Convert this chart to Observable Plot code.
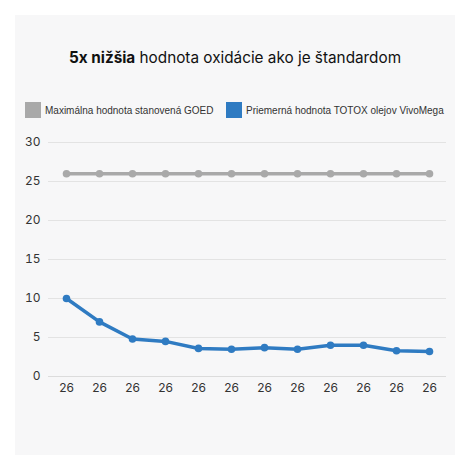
<!DOCTYPE html>
<html>
<head>
<meta charset="utf-8">
<script src="https://cdn.jsdelivr.net/npm/d3@7"></script>
<script src="https://cdn.jsdelivr.net/npm/@observablehq/plot@0.6"></script>
<style>
  body { margin: 0; background: #fff; font-family: Inter, "Noto Sans", sans-serif; }
  #panel { position: absolute; left: 15px; top: 15px; width: 440px; height: 440px; background: #f7f7f8; }
  #title { position: absolute; left: 0; width: 440px; top: 33px; text-align: center; font-size: 15.3px; color: #111; }
  #legend { position: absolute; left: 0; top: 87px; width: 440px; height: 18px; font-family: "Liberation Sans", Arial, sans-serif; font-size: 10px; color: #333; white-space: nowrap; }
  .sw { display: inline-block; width: 16px; height: 16px; margin-right: 4px; }
  .item { position: absolute; top: 0; display: flex; align-items: center; }
  #chart { position: absolute; left: 0; top: 115px; }
</style>
</head>
<body>
<div id="panel">
  <div id="title"><b>5x nižšia</b> hodnota oxidácie ako je štandardom</div>
  <div id="legend"></div>
  <div id="chart"></div>
</div>
<script>
const xLabels = ["26","26","26","26","26","26","26","26","26","26","26","26"];
const seriesNames = ["Maximálna hodnota stanovená GOED", "Priemerná hodnota TOTOX olejov VivoMega"];
const goedValues = [26,26,26,26,26,26,26,26,26,26,26,26];
const vivoValues = [10,7,4.8,4.5,3.6,3.5,3.7,3.5,4.0,4.0,3.3,3.2];
const colors = ["#a9a9a9", "#2f7bc2"];
const yTicks = [0,5,10,15,20,25,30];

const legend = document.getElementById("legend");
const legendLeft = [10, 211];
seriesNames.forEach((n, i) => {
  const it = document.createElement("div");
  it.className = "item";
  it.style.left = legendLeft[i] + "px";
  it.innerHTML = `<span class="sw" style="background:${colors[i]}"></span><span>${n}</span>`;
  legend.appendChild(it);
});

const data = [];
xLabels.forEach((l, i) => {
  data.push({i, s: seriesNames[0], v: goedValues[i]});
  data.push({i, s: seriesNames[1], v: vivoValues[i]});
});

const chart = Plot.plot({
  width: 440,
  height: 285,
  marginTop: 12,
  marginBottom: 39,
  marginLeft: 33,
  marginRight: 9,
  style: {background: "transparent", fontFamily: "Inter, 'Noto Sans', sans-serif", fontSize: "12px", color: "#333"},
  x: {type: "point", domain: xLabels.map((d, i) => i), padding: 0.5, tickFormat: i => xLabels[i], tickSize: 0, tickPadding: 7, label: null},
  y: {domain: [0, 30], ticks: yTicks, tickSize: 0, tickPadding: 8, label: null},
  color: {domain: seriesNames, range: colors},
  marks: [
    Plot.gridY(yTicks, {stroke: "#e3e3e3", strokeOpacity: 1}),
    Plot.ruleY([0], {stroke: "#dcdcdc"}),
    Plot.axisX({tickSize: 0, tickPadding: 7, tickFormat: i => xLabels[i]}),
    Plot.axisY({ticks: yTicks, tickSize: 0, tickPadding: 8}),
    Plot.line(data, {x: "i", y: "v", z: "s", stroke: "s", strokeWidth: 3.5, curve: "linear"}),
    Plot.dot(data, {x: "i", y: "v", fill: "s", r: 3.8})
  ]
});
document.getElementById("chart").appendChild(chart);
</script>
</body>
</html>
